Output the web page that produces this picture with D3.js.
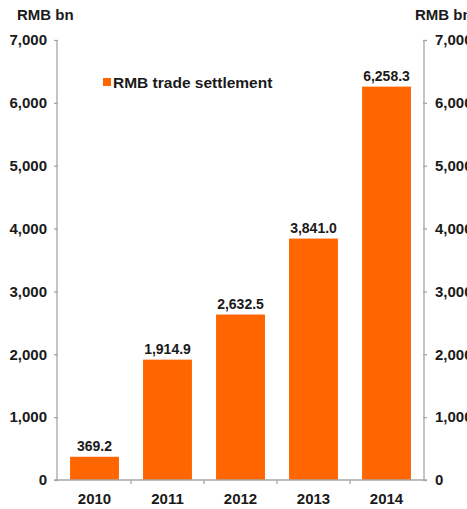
<!DOCTYPE html>
<html>
<head>
<meta charset="utf-8">
<script src="https://cdn.jsdelivr.net/npm/d3@7"></script>
<style>
  body { margin: 0; background: #fff; }
  svg { display: block; font-family: "Liberation Sans", Arial, sans-serif; }
</style>
</head>
<body>
<div id="chart"></div>
<script>
// data
const years = ['2010', '2011', '2012', '2013', '2014'];
const settlement = [369.2, 1914.9, 2632.5, 3841.0, 6258.3];
const yTicks = [0, 1000, 2000, 3000, 4000, 5000, 6000, 7000];

const width = 467, height = 509;
const margin = { top: 40, right: 44, bottom: 29, left: 58 };
const orange = '#ff6600';
const axisGrey = '#a6a6a6';

const svg = d3.select('#chart').append('svg')
    .attr('width', width)
    .attr('height', height);

const x = d3.scaleBand()
    .domain(years)
    .range([margin.left, width - margin.right])
    .paddingInner(0.33)
    .paddingOuter(0.165);

const y = d3.scaleLinear()
    .domain([0, 7000])
    .range([height - margin.bottom, margin.top]);

const fmt = d3.format(',');

// bars
svg.append('g')
    .selectAll('rect')
    .data(settlement)
    .join('rect')
    .attr('x', (d, i) => x(years[i]))
    .attr('y', d => y(d))
    .attr('width', x.bandwidth())
    .attr('height', d => y(0) - y(d))
    .attr('fill', orange);

// value labels above bars
svg.append('g')
    .attr('text-anchor', 'middle')
    .selectAll('text')
    .data(settlement)
    .join('text')
    .attr('x', (d, i) => x(years[i]) + x.bandwidth() / 2)
    .attr('y', d => y(d) - 6)
    .style('font-size', '14px')
    .style('font-weight', 'bold')
    .style('fill', '#1a1a1a')
    .text(d => d3.format(',.1f')(d));

// left axis
const leftAxis = svg.append('g')
    .attr('transform', `translate(${margin.left},0)`)
    .call(d3.axisLeft(y).tickValues(yTicks).tickFormat(fmt).tickSize(4).tickPadding(7));

// right axis
const rightAxis = svg.append('g')
    .attr('transform', `translate(${width - margin.right},0)`)
    .call(d3.axisRight(y).tickValues(yTicks).tickFormat(fmt).tickSize(4).tickPadding(8));

[leftAxis, rightAxis].forEach(g => {
    g.select('.domain').attr('stroke', axisGrey).attr('stroke-width', 1.3)
        .attr('d', `M${g === leftAxis ? -1 : 1},${y(7000)}V${y(0)}`);
    g.selectAll('.tick line').attr('stroke', axisGrey).attr('stroke-width', 1.3);
    g.selectAll('.tick text')
        .style('font-size', '15px')
        .style('font-weight', 'bold')
        .style('fill', '#1a1a1a');
});

// bottom axis: line plus ticks at category boundaries
const step = x.step();
const bounds = years.slice(0, -1).map(yr => x(yr) + x.bandwidth() + (step - x.bandwidth()) / 2);
const xAxis = svg.append('g');
xAxis.append('line')
    .attr('x1', margin.left - 4).attr('x2', width - margin.right + 4)
    .attr('y1', y(0)).attr('y2', y(0))
    .attr('stroke', axisGrey).attr('stroke-width', 1.3);
xAxis.selectAll('.bt')
    .data(bounds)
    .join('line')
    .attr('class', 'bt')
    .attr('x1', d => d).attr('x2', d => d)
    .attr('y1', y(0)).attr('y2', y(0) + 4)
    .attr('stroke', axisGrey).attr('stroke-width', 1.3);
xAxis.selectAll('text')
    .data(years)
    .join('text')
    .attr('x', d => x(d) + x.bandwidth() / 2)
    .attr('y', y(0) + 24)
    .attr('text-anchor', 'middle')
    .style('font-size', '15px')
    .style('font-weight', 'bold')
    .style('fill', '#1a1a1a')
    .text(d => d);

// unit titles
svg.append('text')
    .attr('x', 17).attr('y', 20)
    .style('font-size', '15px').style('font-weight', 'bold').style('fill', '#1a1a1a')
    .text('RMB bn');
svg.append('text')
    .attr('x', 415).attr('y', 20)
    .style('font-size', '15px').style('font-weight', 'bold').style('fill', '#1a1a1a')
    .text('RMB bn');

// legend
const legend = svg.append('g').attr('transform', 'translate(103,78)');
legend.append('rect')
    .attr('width', 8).attr('height', 8)
    .attr('fill', orange);
legend.append('text')
    .attr('x', 10).attr('y', 9.5)
    .style('font-size', '15.5px').style('font-weight', 'bold').style('fill', '#1a1a1a')
    .text('RMB trade settlement');
</script>
</body>
</html>
